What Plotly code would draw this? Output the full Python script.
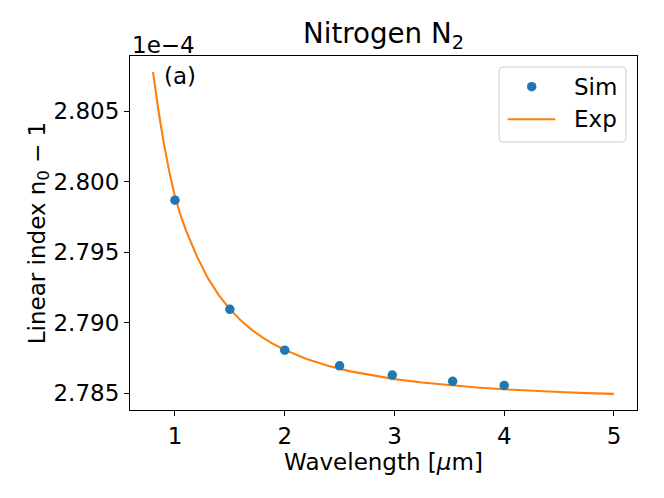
import plotly.graph_objects as go

# Simulated points (Sim)
sim_wavelength = [1.0, 1.5, 2.0, 2.5, 2.98, 3.53, 4.0]
sim_index = [2.7987, 2.79096, 2.78806, 2.78695, 2.78630, 2.78585, 2.78556]  # x 1e-4

exp_wavelength = [0.80, 0.85, 0.90, 0.95, 1.00, 1.05, 1.10, 1.15, 1.20, 1.30,
                  1.40, 1.50, 1.60, 1.70, 1.80, 1.90, 2.00, 2.20, 2.40, 2.60,
                  2.80, 3.00, 3.25, 3.50, 3.75, 4.00, 4.25, 4.50, 4.75, 5.00]
exp_index = [2.80778, 2.80500, 2.80265, 2.80065, 2.79895, 2.79765, 2.79655, 2.79558, 2.79471, 2.79317,
             2.79195, 2.79097, 2.79017, 2.78950, 2.78895, 2.78848, 2.78808, 2.78743, 2.78694, 2.78656,
             2.78626, 2.78601, 2.78577, 2.78557, 2.78542, 2.78529, 2.78518, 2.78510, 2.78502, 2.78496]

x_ticks = [1, 2, 3, 4, 5]
y_ticks = [2.785, 2.790, 2.795, 2.800, 2.805]

SIM_COLOR = "#1f77b4"
EXP_COLOR = "#ff7f0e"
FONT = "DejaVu Sans"
FS = 23

# figure size compensates for the 8px default page margin
W, H = 656, 490
ML, MR, MT, MB = 122, 27, 48, 88
PW, PH = W - ML - MR, H - MT - MB


def px(x):  # window pixel x -> paper x
    return (x - 8 - ML) / PW


def py(y):  # window pixel y -> paper y
    return (H - MB - (y - 8)) / PH


fig = go.Figure()
fig.add_trace(go.Scatter(x=exp_wavelength, y=exp_index, mode="lines", name="Exp",
                         line=dict(color=EXP_COLOR, width=2.1), showlegend=False))
fig.add_trace(go.Scatter(x=sim_wavelength, y=sim_index, mode="markers", name="Sim",
                         marker=dict(color=SIM_COLOR, size=9.5), showlegend=False))

axis_common = dict(showline=True, mirror=True, linecolor="black", linewidth=1.1,
                   ticks="outside", ticklen=5, tickwidth=1.1, tickcolor="black",
                   showgrid=False, zeroline=False, automargin=False,
                   tickfont=dict(family=FONT, size=FS, color="black"))

fig.update_layout(
    width=W, height=H,
    margin=dict(l=ML, r=MR, t=MT, b=MB),
    plot_bgcolor="white", paper_bgcolor="white",
    font=dict(family=FONT, color="black"),
    xaxis=dict(range=[0.59, 5.21], tickvals=x_ticks, ticktext=[str(v) for v in x_ticks],
               title=dict(text="Wavelength [<i>μ</i>m]", font=dict(family=FONT, size=FS, color="black"), standoff=4),
               **axis_common),
    yaxis=dict(range=[2.78382, 2.80892], tickvals=y_ticks, ticktext=[f"{v:.3f}" for v in y_ticks],
               title=dict(text="Linear index n<sub>0</sub> − 1", font=dict(family=FONT, size=FS, color="black"), standoff=1),
               **axis_common),
    showlegend=False,
)

# legend box with rounded corners
x0, x1, y0, y1 = px(499), px(626), py(142), py(67)
rx, ry = 4 / PW, 4 / PH
path = (f"M {x0+rx},{y0} L {x1-rx},{y0} Q {x1},{y0} {x1},{y0+ry} "
        f"L {x1},{y1-ry} Q {x1},{y1} {x1-rx},{y1} "
        f"L {x0+rx},{y1} Q {x0},{y1} {x0},{y1-ry} "
        f"L {x0},{y0+ry} Q {x0},{y0} {x0+rx},{y0} Z")
fig.add_shape(type="path", path=path, xref="paper", yref="paper",
              fillcolor="rgba(255,255,255,0.8)", line=dict(color="#cccccc", width=1))
fig.add_shape(type="circle", xref="paper", yref="paper", xsizemode="pixel", ysizemode="pixel",
              xanchor=px(531.7), yanchor=py(86.7), x0=-4.75, x1=4.75, y0=-4.75, y1=4.75,
              fillcolor=SIM_COLOR, line=dict(width=0))
fig.add_shape(type="line", xref="paper", yref="paper", x0=px(507.7), x1=px(555.3),
              y0=py(119.3), y1=py(119.3), line=dict(color=EXP_COLOR, width=2.1))
fig.add_annotation(text="Sim", xref="paper", yref="paper", x=px(572), y=py(86.7),
                   xanchor="left", yanchor="middle", showarrow=False,
                   font=dict(family=FONT, size=FS, color="black"))
fig.add_annotation(text="Exp", xref="paper", yref="paper", x=px(572), y=py(119.3),
                   xanchor="left", yanchor="middle", showarrow=False,
                   font=dict(family=FONT, size=FS, color="black"))

fig.add_annotation(text="Nitrogen N<sub>2</sub>", xref="paper", yref="paper", x=0.5, y=1,
                   xanchor="center", yanchor="bottom", yshift=0, showarrow=False,
                   font=dict(family=FONT, size=27.7, color="black"))
fig.add_annotation(text="1e−4", xref="paper", yref="paper", x=0, y=1,
                   xanchor="left", yanchor="bottom", yshift=-4, showarrow=False,
                   font=dict(family=FONT, size=FS, color="black"))
fig.add_annotation(text="(a)", xref="paper", yref="paper", x=0.064, y=0.943,
                   xanchor="left", yanchor="middle", showarrow=False,
                   font=dict(family=FONT, size=FS, color="black"))

fig.write_html("out.html")
